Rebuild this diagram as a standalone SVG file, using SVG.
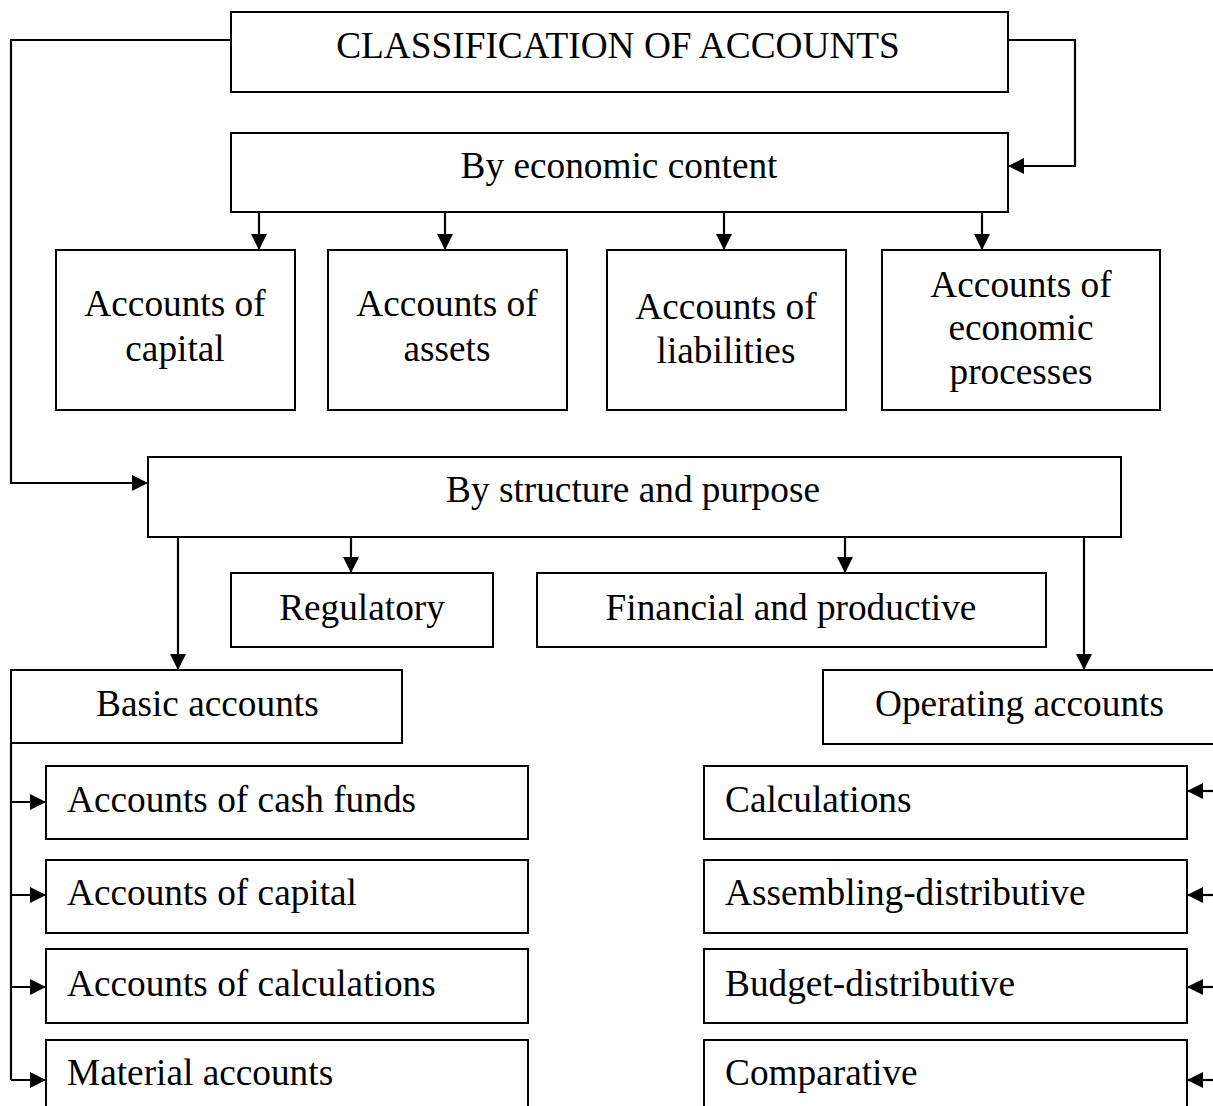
<svg xmlns="http://www.w3.org/2000/svg" width="1213" height="1106" viewBox="0 0 1213 1106">
  <style>
    .box { fill: #fff; stroke: #000; stroke-width: 2; }
    .txt { font-family: "Liberation Serif", "Times New Roman", serif; font-size: 37.3px; fill: #000; }
    .c { text-anchor: middle; }
    .link { fill: none; stroke: #000; stroke-width: 2.2; marker-end: url(#arrow); }
  </style>
  <defs>
    <marker id="arrow" viewBox="0 0 16 16" refX="16" refY="8" markerWidth="16" markerHeight="16" markerUnits="userSpaceOnUse" orient="auto">
      <path d="M0,0 L16,8 L0,16 Z" fill="#000"/>
    </marker>
  </defs>

  <rect width="1213" height="1106" fill="#fff"/>

  <!-- connectors -->
  <g id="connectors">
    <path class="link" d="M231,40 H11 V483 H148"/>
    <path class="link" d="M1008,40 H1075 V166 H1008"/>
    <path class="link" d="M259,212 V250"/>
    <path class="link" d="M445,212 V250"/>
    <path class="link" d="M724,212 V250"/>
    <path class="link" d="M982,212 V250"/>
    <path class="link" d="M178,537 V670"/>
    <path class="link" d="M351,537 V573"/>
    <path class="link" d="M845,537 V573"/>
    <path class="link" d="M1084,537 V670"/>
    <path fill="none" stroke="#000" stroke-width="2.2" d="M11,743 V1080"/>
    <path class="link" d="M11,802 H46"/>
    <path class="link" d="M11,895 H46"/>
    <path class="link" d="M11,987 H46"/>
    <path class="link" d="M11,1080 H46"/>
    <path class="link" d="M1213,791 H1187"/>
    <path class="link" d="M1213,895 H1187"/>
    <path class="link" d="M1213,987 H1187"/>
    <path class="link" d="M1213,1080 H1187"/>
  </g>

  <g id="classification">
    <rect class="box" x="231" y="12" width="777" height="80"/>
    <text class="txt c" x="618" y="58">CLASSIFICATION OF ACCOUNTS</text>
  </g>

  <g id="economic-content">
    <rect class="box" x="231" y="133" width="777" height="79"/>
    <text class="txt c" x="619" y="178">By economic content</text>
  </g>

  <g id="ec-capital">
    <rect class="box" x="56" y="250" width="239" height="160"/>
    <text class="txt c" x="175" y="316">Accounts of</text>
    <text class="txt c" x="175" y="361">capital</text>
  </g>
  <g id="ec-assets">
    <rect class="box" x="328" y="250" width="239" height="160"/>
    <text class="txt c" x="447" y="316">Accounts of</text>
    <text class="txt c" x="447" y="361">assets</text>
  </g>
  <g id="ec-liabilities">
    <rect class="box" x="607" y="250" width="239" height="160"/>
    <text class="txt c" x="726" y="319">Accounts of</text>
    <text class="txt c" x="726" y="363">liabilities</text>
  </g>
  <g id="ec-processes">
    <rect class="box" x="882" y="250" width="278" height="160"/>
    <text class="txt c" x="1021" y="297">Accounts of</text>
    <text class="txt c" x="1021" y="340">economic</text>
    <text class="txt c" x="1021" y="384">processes</text>
  </g>

  <g id="structure-purpose">
    <rect class="box" x="148" y="457" width="973" height="80"/>
    <text class="txt c" x="633" y="502">By structure and purpose</text>
  </g>

  <g id="regulatory">
    <rect class="box" x="231" y="573" width="262" height="74"/>
    <text class="txt c" x="362" y="620">Regulatory</text>
  </g>
  <g id="financial-productive">
    <rect class="box" x="537" y="573" width="509" height="74"/>
    <text class="txt c" x="791" y="620">Financial and productive</text>
  </g>

  <g id="basic">
    <rect class="box" x="11" y="670" width="391" height="73"/>
    <text class="txt" x="96" y="716">Basic accounts</text>
  </g>
  <g id="operating">
    <rect class="box" x="823" y="670" width="400" height="74"/>
    <text class="txt" x="875" y="716">Operating accounts</text>
  </g>

  <g id="basic-cash">
    <rect class="box" x="46" y="766" width="482" height="73"/>
    <text class="txt" x="67" y="812">Accounts of cash funds</text>
  </g>
  <g id="basic-capital">
    <rect class="box" x="46" y="860" width="482" height="73"/>
    <text class="txt" x="67" y="905">Accounts of capital</text>
  </g>
  <g id="basic-calculations">
    <rect class="box" x="46" y="949" width="482" height="74"/>
    <text class="txt" x="67" y="996">Accounts of calculations</text>
  </g>
  <g id="basic-material">
    <rect class="box" x="46" y="1040" width="482" height="80"/>
    <text class="txt" x="67" y="1085">Material accounts</text>
  </g>

  <g id="op-calculations">
    <rect class="box" x="704" y="766" width="483" height="73"/>
    <text class="txt" x="725" y="812">Calculations</text>
  </g>
  <g id="op-assembling">
    <rect class="box" x="704" y="860" width="483" height="73"/>
    <text class="txt" x="725" y="905">Assembling-distributive</text>
  </g>
  <g id="op-budget">
    <rect class="box" x="704" y="949" width="483" height="74"/>
    <text class="txt" x="725" y="996">Budget-distributive</text>
  </g>
  <g id="op-comparative">
    <rect class="box" x="704" y="1040" width="483" height="80"/>
    <text class="txt" x="725" y="1085">Comparative</text>
  </g>
</svg>
